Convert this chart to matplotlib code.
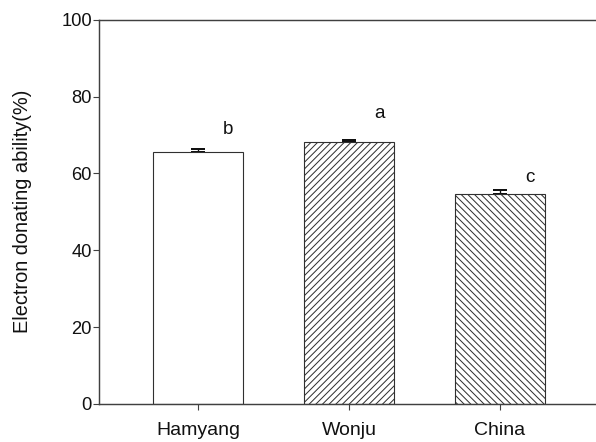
import matplotlib
matplotlib.use("Agg")
import matplotlib.pyplot as plt

plt.rcParams['font.family'] = ['Liberation Sans', 'DejaVu Sans']
plt.rcParams['hatch.linewidth'] = 0.9
plt.rcParams['hatch.color'] = '#222222'

categories = ["Hamyang", "Wonju", "China"]
values = [65.7, 68.3, 54.7]
errors = [0.7, 0.5, 1.0]
letters = ["b", "a", "c"]
letter_y = [71.4, 75.6, 59.0]
hatches = ["", "////", "\\\\\\\\"]
yticks = [0, 20, 40, 60, 80, 100]

fig = plt.figure(figsize=(7.45, 5.525), dpi=80)
ax = fig.add_axes([0.1661, 0.0860, 0.8339, 0.8694])

x = list(range(len(categories)))
ecol = '#303030'
for i in x:
    ax.bar(i, values[i], width=0.6, color='white', edgecolor=ecol,
           linewidth=1.0, hatch=hatches[i], zorder=2)
ax.errorbar(x, values, yerr=[[0]*len(x), errors], fmt='none', ecolor='#111111',
            elinewidth=1.2, capsize=6.5, capthick=1.8, zorder=1)

for i in x:
    ax.text(i + 0.2, letter_y[i], letters[i], ha='center', va='center',
            fontsize=17, color='#111111')

ax.set_xlim(-0.656, 2.636)
ax.set_ylim(0, 100)
ax.set_yticks(yticks)
ax.set_xticks(x)
ax.set_xticklabels(categories)
ax.tick_params(axis='x', direction='out', length=5, width=1.0, color='#404040',
               labelsize=17.5, pad=11, labelcolor='#111111')
ax.tick_params(axis='y', direction='out', length=5, width=1.0, color='#404040',
               labelsize=16.5, pad=1.5, labelcolor='#111111')
for s in ['left', 'bottom', 'top']:
    ax.spines[s].set_color('#404040')
    ax.spines[s].set_linewidth(1.3)
ax.spines['right'].set_visible(False)

ax.set_ylabel("Electron donating ability(%)", fontsize=18, color='#111111')
ax.yaxis.set_label_coords(-0.135, 0.502)

fig.savefig("out.png", dpi=80)
